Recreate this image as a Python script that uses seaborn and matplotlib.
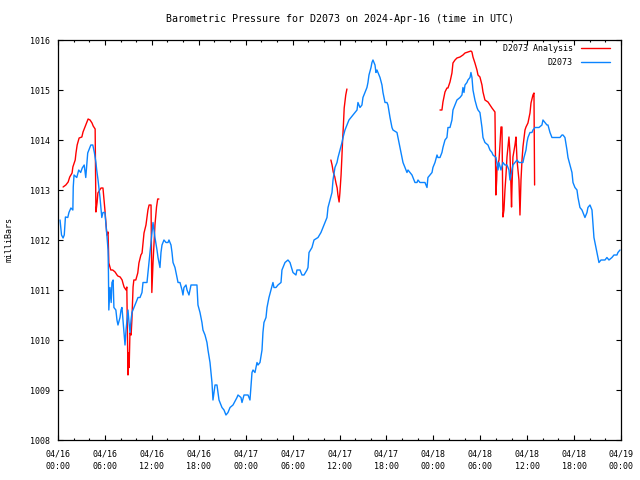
import numpy as np
import pandas as pd
import matplotlib
matplotlib.use("Agg")
import matplotlib.pyplot as plt
import matplotlib.dates as mdates
from matplotlib.lines import Line2D
import seaborn as sns

# hours after 2024-04-16 00:00 UTC, pressure in mbar
obs_hours = [0.26, 0.45, 0.65, 0.8, 0.95, 1.25, 1.4, 1.65, 1.9, 1.95, 2.05, 2.4, 2.65, 2.9, 3.1,
             3.35, 3.55, 3.8, 3.95, 4.2, 4.45, 4.65, 4.85, 4.95, 5.12, 5.37, 5.6, 5.75, 6.0, 6.25,
             6.4, 6.45, 6.5, 6.65, 6.8, 6.9, 7.05, 7.15, 7.4, 7.54, 7.67, 7.93, 8.06, 8.18, 8.31,
             8.44, 8.57, 8.7, 8.82, 8.95, 9.08, 9.21, 9.34, 9.46, 9.59, 9.85, 10.1, 10.23, 10.49,
             10.74, 10.87, 11.13, 11.38, 11.51, 11.76, 12.02, 12.15, 12.4, 12.66, 12.79, 13.04,
             13.17, 13.3, 13.55, 13.81, 14.07, 14.19, 14.45, 14.58, 14.71, 14.96, 15.22, 15.35,
             15.6, 15.86, 15.98, 16.11, 16.37, 16.5, 16.75, 17.01, 17.77, 17.9, 18.16, 18.41,
             18.54, 18.8, 19.05, 19.18, 19.44, 19.69, 19.82, 20.08, 20.33, 20.46, 20.59, 20.97,
             21.23, 21.48, 21.74, 22.0, 22.38, 22.89, 23.02, 23.4, 23.53, 23.79, 24.3, 24.55,
             24.81, 24.94, 25.19, 25.45, 25.58, 25.83, 26.09, 26.21, 26.34, 26.6, 26.73, 26.98,
             27.24, 27.49, 27.62, 27.88, 28.13, 28.52, 28.64, 29.03, 29.41, 29.67, 30.05, 30.43,
             30.56, 30.95, 31.2, 31.46, 31.84, 31.97, 32.1, 32.48, 32.74, 33.25, 33.63, 33.89,
             34.14, 34.4, 34.53, 34.78, 35.04, 35.17, 35.42, 35.68, 35.81, 36.06, 36.32, 36.45,
             36.7, 36.96, 37.21, 37.47, 37.72, 37.98, 38.24, 38.36, 38.62, 38.87, 39.0, 39.26,
             39.51, 39.64, 39.77, 40.03, 40.15, 40.28, 40.54, 40.66, 40.79, 40.92, 41.18, 41.43,
             41.56, 41.82, 42.07, 42.2, 42.46, 42.71, 42.84, 43.35, 43.48, 43.73, 43.99, 44.12,
             44.37, 44.63, 44.76, 45.01, 45.27, 45.4, 45.65, 45.91, 46.04, 46.29, 46.93, 47.19,
             47.31, 47.57, 47.83, 47.95, 48.21, 48.47, 48.59, 48.85, 49.1, 49.23, 49.49, 49.74,
             49.87, 50.13, 50.38, 50.51, 50.77, 51.02, 51.41, 51.66, 51.79, 51.92, 52.05, 52.3,
             52.43, 52.69, 52.81, 52.94, 53.07, 53.32, 53.58, 53.71, 53.96, 54.22, 54.35, 54.6,
             54.99, 55.24, 55.5, 55.63, 56.01, 56.27, 56.39, 56.65, 56.91, 57.16, 57.42, 57.67,
             57.8, 58.06, 58.18, 58.44, 58.7, 58.95, 59.21, 59.46, 59.59, 59.85, 59.97, 60.1,
             60.36, 60.61, 60.74, 61.0, 61.25, 61.51, 61.89, 62.02, 62.28, 62.53, 62.66, 62.92,
             63.17, 63.3, 63.81, 64.19, 64.45, 64.58, 64.83, 65.09, 65.22, 65.47, 65.73, 65.86,
             66.11, 66.37, 66.5, 66.75, 67.01, 67.14, 67.39, 67.65, 67.77, 68.03, 68.29, 68.41,
             68.54, 68.8, 68.93, 69.18, 69.44, 69.69, 69.95, 70.2, 70.46, 70.84, 71.1, 71.48,
             71.61, 71.87]
obs_mbar = [1012.4, 1012.1, 1012.04, 1012.1, 1012.46, 1012.45, 1012.55, 1012.64, 1012.6, 1013.06,
            1013.3, 1013.25, 1013.4, 1013.35, 1013.44, 1013.5, 1013.25, 1013.74, 1013.8, 1013.9,
            1013.9, 1013.75, 1013.55, 1013.4, 1013.2, 1012.85, 1012.45, 1012.55, 1012.55, 1012.1,
            1011.8, 1011.35, 1010.6, 1011.05, 1010.75, 1011.15, 1011.2, 1010.65, 1010.6, 1010.4,
            1010.3, 1010.45, 1010.6, 1010.65, 1010.4, 1010.15, 1009.9, 1010.2, 1010.4, 1010.6,
            1010.35, 1010.15, 1010.4, 1010.55, 1010.6, 1010.7, 1010.8, 1010.85, 1010.85, 1010.95,
            1011.15, 1011.15, 1011.15, 1011.35, 1011.75, 1012.15, 1012.35, 1012.05, 1011.8,
            1011.65, 1011.45, 1011.75, 1011.9, 1012.0, 1011.95, 1011.95, 1012.0, 1011.9, 1011.75,
            1011.55, 1011.45, 1011.25, 1011.15, 1011.15, 1011.0, 1010.9, 1011.05, 1011.1, 1011.0,
            1010.9, 1011.1, 1011.1, 1010.7, 1010.55, 1010.35, 1010.2, 1010.1, 1009.95, 1009.8,
            1009.55, 1009.15, 1008.8, 1009.1, 1009.1, 1008.95, 1008.8, 1008.65, 1008.6, 1008.5,
            1008.55, 1008.65, 1008.7, 1008.85, 1008.9, 1008.85, 1008.75, 1008.9, 1008.9, 1008.8,
            1009.35, 1009.4, 1009.35, 1009.55, 1009.5, 1009.55, 1009.8, 1010.15, 1010.35,
            1010.45, 1010.65, 1010.85, 1011.0, 1011.15, 1011.05, 1011.05, 1011.1, 1011.15,
            1011.4, 1011.55, 1011.6, 1011.55, 1011.35, 1011.3, 1011.4, 1011.4, 1011.3, 1011.3,
            1011.4, 1011.45, 1011.75, 1011.85, 1012.0, 1012.05, 1012.15, 1012.25, 1012.35,
            1012.45, 1012.65, 1012.8, 1012.95, 1013.2, 1013.45, 1013.55, 1013.65, 1013.8,
            1013.95, 1014.05, 1014.2, 1014.3, 1014.4, 1014.45, 1014.5, 1014.55, 1014.6, 1014.75,
            1014.65, 1014.7, 1014.85, 1014.95, 1015.05, 1015.15, 1015.3, 1015.45, 1015.55,
            1015.6, 1015.5, 1015.35, 1015.4, 1015.35, 1015.25, 1015.1, 1014.95, 1014.75, 1014.75,
            1014.7, 1014.45, 1014.25, 1014.2, 1014.15, 1014.05, 1013.85, 1013.65, 1013.55,
            1013.45, 1013.35, 1013.4, 1013.35, 1013.3, 1013.25, 1013.15, 1013.15, 1013.2,
            1013.15, 1013.15, 1013.05, 1013.25, 1013.3, 1013.35, 1013.45, 1013.55, 1013.7,
            1013.65, 1013.65, 1013.75, 1013.85, 1014.0, 1014.05, 1014.25, 1014.25, 1014.4,
            1014.6, 1014.7, 1014.8, 1014.85, 1014.9, 1015.05, 1014.95, 1015.1, 1015.15, 1015.2,
            1015.25, 1015.35, 1015.25, 1015.0, 1014.8, 1014.65, 1014.6, 1014.55, 1014.25,
            1014.05, 1013.95, 1013.9, 1013.8, 1013.75, 1013.7, 1013.65, 1013.4, 1013.55, 1013.4,
            1013.55, 1013.5, 1013.5, 1013.4, 1013.2, 1013.4, 1013.5, 1013.55, 1013.6, 1013.55,
            1013.55, 1013.55, 1013.65, 1013.8, 1013.95, 1014.05, 1014.15, 1014.15, 1014.2,
            1014.25, 1014.25, 1014.25, 1014.3, 1014.4, 1014.35, 1014.3, 1014.3, 1014.15, 1014.05,
            1014.05, 1014.05, 1014.05, 1014.1, 1014.1, 1014.05, 1013.8, 1013.65, 1013.5, 1013.35,
            1013.15, 1013.05, 1013.0, 1012.85, 1012.65, 1012.6, 1012.55, 1012.45, 1012.55,
            1012.65, 1012.7, 1012.6, 1012.35, 1012.05, 1011.85, 1011.75, 1011.55, 1011.6, 1011.6,
            1011.6, 1011.65, 1011.6, 1011.65, 1011.7, 1011.7, 1011.75, 1011.8]

# analysis comes in three separate runs
ana_hours = [
    [0.65, 1.0, 1.3, 1.5, 1.8, 1.9, 2.2, 2.3, 2.45, 2.7, 3.05, 3.2, 3.45, 3.7, 3.85, 4.1, 4.35,
     4.5, 4.75, 4.85, 5.0, 5.1, 5.5, 5.75, 6.0, 6.25, 6.4, 6.5, 6.75, 7.0, 7.3, 7.55, 7.65,
     7.95, 8.2, 8.3, 8.45, 8.7, 8.8, 8.95, 9.05, 9.1, 9.2, 9.35, 9.45, 9.6, 9.7, 9.95, 10.2,
     10.35, 10.6, 10.75, 10.85, 11.0, 11.25, 11.5, 11.65, 11.9, 12.0, 12.15, 12.4, 12.6,
     12.75, 12.9],
    [34.9, 35.05, 35.2, 35.4, 35.55, 35.7, 35.8, 35.95, 36.05, 36.2, 36.3, 36.4, 36.5, 36.6,
     36.8, 36.95],
    [48.85, 49.1, 49.23, 49.49, 49.74, 49.87, 50.13, 50.38, 50.51, 50.77, 51.02, 51.41, 51.79,
     52.05, 52.43, 52.81, 52.94, 53.07, 53.32, 53.58, 53.71, 53.96, 54.22, 54.35, 54.6, 54.99,
     55.5, 55.88, 56.0, 56.1, 56.15, 56.4, 56.52, 56.65, 56.78, 56.9, 57.03, 57.16, 57.29,
     57.42, 57.67, 57.8, 57.93, 58.0, 58.06, 58.18, 58.44, 58.57, 58.7, 58.95, 59.08, 59.21,
     59.34, 59.46, 59.72, 59.85, 60.1, 60.36, 60.49, 60.74, 60.87, 60.95],
]
ana_mbar = [
    [1013.06, 1013.1, 1013.16, 1013.26, 1013.34, 1013.46, 1013.6, 1013.74, 1013.9, 1014.04,
     1014.06, 1014.16, 1014.26, 1014.36, 1014.42, 1014.4, 1014.34, 1014.28, 1014.22, 1012.56,
     1012.75, 1012.94, 1013.04, 1013.04, 1012.6, 1012.1, 1012.16, 1011.54, 1011.4, 1011.4,
     1011.36, 1011.3, 1011.28, 1011.26, 1011.2, 1011.14, 1011.06, 1011.0, 1011.06, 1009.3,
     1009.74, 1009.45, 1010.14, 1010.1, 1010.4, 1011.06, 1011.2, 1011.2, 1011.34, 1011.54,
     1011.7, 1011.74, 1011.9, 1012.14, 1012.3, 1012.6, 1012.7, 1012.7, 1010.95, 1011.54,
     1012.3, 1012.66, 1012.82, 1012.82],
    [1013.6, 1013.5, 1013.36, 1013.26, 1013.14, 1013.04, 1012.9, 1012.76, 1012.94, 1013.3,
     1013.64, 1014.0, 1014.3, 1014.64, 1014.9, 1015.02],
    [1014.6, 1014.6, 1014.76, 1014.96, 1015.04, 1015.04, 1015.16, 1015.34, 1015.54, 1015.6,
     1015.64, 1015.66, 1015.7, 1015.74, 1015.76, 1015.78, 1015.76, 1015.66, 1015.54, 1015.4,
     1015.3, 1015.26, 1015.1, 1014.96, 1014.8, 1014.76, 1014.64, 1014.56, 1012.9, 1013.2,
     1013.46, 1013.6, 1013.9, 1014.26, 1014.26, 1012.46, 1012.6, 1013.0, 1013.3, 1013.66,
     1014.06, 1013.75, 1013.06, 1012.66, 1013.06, 1013.66, 1013.9, 1014.06, 1013.6, 1013.2,
     1012.5, 1013.2, 1013.6, 1013.86, 1014.2, 1014.26, 1014.34, 1014.54, 1014.74, 1014.9,
     1014.94, 1013.1],
]

start = pd.Timestamp("2024-04-16 00:00")
obs = pd.DataFrame({"time": start + pd.to_timedelta(obs_hours, unit="h"), "mbar": obs_mbar})

sns.set_style("ticks")
plt.rcParams["font.family"] = ["DejaVu Sans Mono"]
plt.rcParams["font.size"] = 6.0
for key in ["text.color", "axes.labelcolor", "xtick.color", "ytick.color"]:
    plt.rcParams[key] = "black"

red = "#ff0000"
blue = "#0a84ff"

fig = plt.figure(figsize=(6.4, 4.8), dpi=100)
ax = fig.add_axes([58 / 640, 40 / 480, 563 / 640, 400 / 480])

for h, p in zip(ana_hours, ana_mbar):
    seg = pd.DataFrame({"time": start + pd.to_timedelta(h, unit="h"), "mbar": p})
    sns.lineplot(data=seg, x="time", y="mbar", color=red, lw=1.0, ax=ax, sort=False)
sns.lineplot(data=obs, x="time", y="mbar", color=blue, lw=1.0, ax=ax, sort=False)

ax.set_xlim(start, start + pd.Timedelta(hours=72))
ax.set_ylim(1008, 1016)
ax.set_yticks(np.arange(1008, 1017, 1))
ax.xaxis.set_major_locator(mdates.HourLocator(byhour=[0, 6, 12, 18]))
ax.xaxis.set_minor_locator(mdates.HourLocator(interval=2))
ax.xaxis.set_major_formatter(mdates.DateFormatter("%m/%d\n%H:%M"))
ax.tick_params(which="both", direction="in", top=True, right=True, color="black",
               labelsize=6.0, width=0.8)
ax.tick_params(which="major", length=3.4)
ax.tick_params(which="minor", length=1.7)
ax.tick_params(axis="x", pad=7)
ax.tick_params(axis="y", pad=6)
for lab in ax.get_xticklabels():
    lab.set_linespacing(1.5)
for s in ax.spines.values():
    s.set_color("black")
    s.set_linewidth(0.9)

ax.set_xlabel("")
ax.set_ylabel("milliBars", labelpad=12)
ax.set_title("Barometric Pressure for D2073 on 2024-Apr-16 (time in UTC)", pad=13)

handles = [Line2D([], [], color=red, lw=1.0), Line2D([], [], color=blue, lw=1.0)]
ax.legend(handles, ["D2073 Analysis", "D2073"], loc="upper right", frameon=False,
          markerfirst=False, handlelength=3.5, handletextpad=0.95, labelspacing=0.6,
          borderpad=0, borderaxespad=0, bbox_to_anchor=(1 - 11 / 563, 1 - 4 / 400))

fig.savefig("out.png", dpi=100)
